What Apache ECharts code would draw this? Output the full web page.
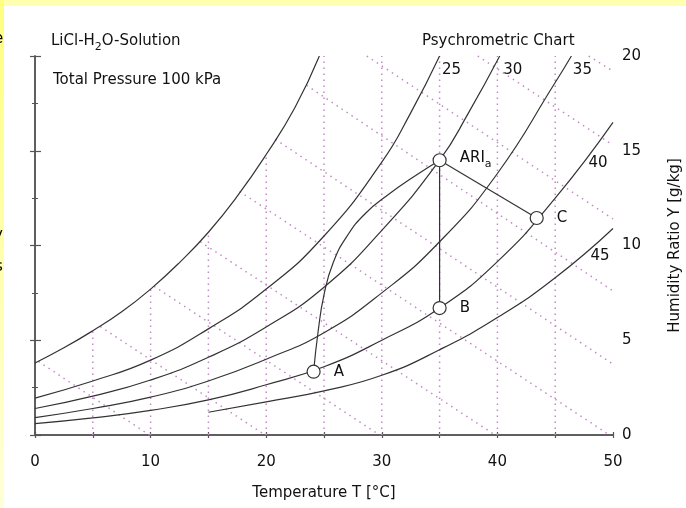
<!DOCTYPE html>
<html>
<head>
<meta charset="utf-8">
<style>
  html, body { margin: 0; padding: 0; background: #fff; }
  #chart { width: 686px; height: 508px; }
</style>
<script src="https://cdn.jsdelivr.net/npm/echarts/dist/echarts.min.js"></script>
</head>
<body>
<div id="chart"></div>
<script>
// saturation curve of pure water, then LiCl solution curves (mass %), [T, Y]
var saturation = [[0, 3.8], [2.5, 4.6], [5, 5.5], [7.5, 6.5], [10, 7.7], [12.5, 9.1], [15, 10.7], [17.5, 12.6], [20, 14.8], [22.5, 17.3], [24.6, 20]];
var licl25 = [[0, 1.95], [5, 2.85], [10, 3.95], [15, 5.6], [20, 7.7], [25, 10.5], [30, 14.4], [32.5, 17.0], [35, 20]];
var licl30 = [[0, 1.4], [5, 2.05], [10, 2.9], [15, 4.1], [20, 5.7], [25, 7.8], [30, 10.8], [35, 14.5], [37.5, 17.0], [40.2, 20]];
var licl35 = [[0, 0.92], [5, 1.4], [10, 2.0], [15, 2.85], [20, 4.0], [25, 5.4], [30, 7.5], [35, 10.2], [40, 13.8], [45, 18.6], [46.4, 20]];
var licl40 = [[0, 0.6], [5, 0.9], [10, 1.3], [15, 1.85], [20, 2.65], [25, 3.6], [30, 5.0], [35, 6.7], [40, 9.15], [45, 12.5], [50, 16.5]];
var licl45 = [[15, 1.2], [20, 1.75], [25, 2.33], [30, 3.15], [35, 4.5], [40, 6.2], [45, 8.3], [50, 10.9]];
var curveNames = ['25', '30', '35', '40', '45'];

// process: A -> ARIa (curved), ARIa -> B, ARIa -> C
var pathA = [[24.1, 3.34], [24.5, 5.5], [25.0, 7.4], [25.8, 9.1], [27.0, 10.5], [28.6, 11.7], [30.6, 12.7], [32.7, 13.6], [35, 14.5]];
var pathB = [[35, 14.5], [35, 6.7]];
var pathC = [[35, 14.5], [43.4, 11.45]];
var pointNames = ['A', 'B', 'C', 'ARIa'];
var pointValues = [[24.1, 3.34], [35, 6.7], [43.4, 11.45], [35, 14.5]];

// dotted grid: isotherms (from 0 up to saturation) and isenthalps
var isoT = [5, 10, 15, 20, 25, 30, 35, 40, 45];
var isoTTop = [5.5, 7.7, 10.7, 14.8, 20, 20, 20, 20, 20];
var enthalpyStart = [[0.3, 3.88], [5.65, 5.72], [10.3, 7.85], [14.3, 10.2], [17.7, 12.85], [20.8, 15.6], [23.5, 18.45], [28.7, 20], [38.3, 20], [47.9, 20]];
var enthalpyEnd = [[9.9, 0], [19.9, 0], [29.8, 0], [39.8, 0], [49.7, 0], [50, 3.74], [50, 7.6], [50, 11.4], [50, 15.3], [50, 19.2]];

var font = 'DejaVu Sans';
var ink = '#111';
var chart = echarts.init(document.getElementById('chart'));

var series = [];
var dotStyle = {color: '#c08cc4', width: 1.5, type: [1.5, 4.5]};
isoT.forEach(function (t, i) {
  series.push({type: 'line', data: [[t, 0], [t, isoTTop[i]]], symbol: 'none', silent: true,
    lineStyle: dotStyle, z: 1});
});
enthalpyStart.forEach(function (p, i) {
  series.push({type: 'line', data: [p, enthalpyEnd[i]], symbol: 'none', silent: true,
    lineStyle: dotStyle, z: 1});
});

var curveStyle = {color: '#333', width: 1.2};
[saturation, licl25, licl30, licl35, licl40, licl45].forEach(function (c) {
  series.push({type: 'line', data: c, smooth: 0.5, symbol: 'none', lineStyle: curveStyle, z: 3});
});
series.push({type: 'line', data: pathA, smooth: 0.5, symbol: 'none', lineStyle: curveStyle, z: 3});
[pathB, pathC].forEach(function (c) {
  series.push({type: 'line', data: c, symbol: 'none', lineStyle: curveStyle, z: 3});
});

// curve labels next to the curve ends
var labelOffsets = [[12, 14], [13, 14], [11, 14], [-15, 41], [-13, 28]];
series.push({
  type: 'scatter', symbolSize: 0, z: 5, silent: true,
  itemStyle: {opacity: 1},
  data: [licl25, licl30, licl35, licl40, licl45].map(function (c, i) {
    return {value: c[c.length - 1], label: {offset: labelOffsets[i], formatter: curveNames[i]}};
  }),
  label: {show: true, position: 'inside', color: ink, fontFamily: font, fontSize: 15}
});

var rich = {
  n: {fontFamily: font, fontSize: 15, fontWeight: 'normal', color: ink, verticalAlign: 'top'},
  s: {fontFamily: font, fontSize: 11, fontWeight: 'normal', color: ink, verticalAlign: 'top', padding: [8, 0, 0, 0]}
};
series.push({
  type: 'scatter', symbol: 'circle', symbolSize: 13, z: 6,
  itemStyle: {color: '#fff', borderColor: '#333', borderWidth: 1.2, opacity: 1},
  data: pointValues.map(function (v, i) { return {value: v, name: pointNames[i]}; }),
  label: {
    show: true, position: 'right', distance: 13,
    formatter: function (p) {
      return p.name === 'ARIa' ? '{n|ARI}{s|a}' : '{n|' + p.name + '}';
    },
    rich: rich
  }
});

var axisLine = {lineStyle: {color: '#555', width: 1.5}};
var tickStyle = {lineStyle: {color: '#555', width: 1.2}};

chart.setOption({
  backgroundColor: '#fff',
  animation: false,
  textStyle: {fontFamily: font},
  grid: {left: 35, right: 73, top: 56, bottom: 73, outerBoundsMode: 'none', containLabel: false},
  title: [
    {text: '{n|LiCl-H}{s|2}{n|O-Solution}', left: 46, top: 29, textStyle: {fontWeight: 'normal', rich: rich}},
    {text: 'Psychrometric Chart', left: 417, top: 29, textStyle: {fontFamily: font, fontSize: 15, fontWeight: 'normal', color: ink}},
    {text: 'Total Pressure 100 kPa', left: 48, top: 68, textStyle: {fontFamily: font, fontSize: 15, fontWeight: 'normal', color: ink}}
  ],
  graphic: [
    {type: 'rect', shape: {x: 0, y: 0, width: 686, height: 6}, style: {fill: '#ffffb0'}, silent: true},
    {type: 'rect', shape: {x: 0, y: 0, width: 4, height: 508}, silent: true,
      style: {fill: new echarts.graphic.LinearGradient(0, 0, 0, 1, [
        {offset: 0, color: '#ffff80'}, {offset: 1, color: '#ffffd8'}])}},
    {type: 'text', x: -6, y: 32, style: {text: 'e', fontSize: 15, fontFamily: font, fill: '#000'}, silent: true},
    {type: 'text', x: -6, y: 228, style: {text: 'y', fontSize: 15, fontFamily: font, fill: '#000'}, silent: true},
    {type: 'text', x: -5, y: 260, style: {text: 's', fontSize: 15, fontFamily: font, fill: '#000'}, silent: true}
  ],
  xAxis: [
    {type: 'value', position: 'bottom', min: 0, max: 50, interval: 5,
      axisLine: axisLine, axisTick: Object.assign({length: 3, inside: true}, tickStyle),
      splitLine: {show: false},
      axisLabel: {margin: 20, color: ink, fontSize: 15, fontFamily: font,
        formatter: function (v) { return v % 10 === 0 ? v : ''; }},
      name: 'Temperature T [°C]', nameLocation: 'middle', nameGap: 51,
      nameTextStyle: {color: ink, fontSize: 15, fontFamily: font}},
    {type: 'value', position: 'top', min: 0, max: 50, interval: 5,
      axisLine: axisLine, axisTick: Object.assign({length: 3, inside: true}, tickStyle),
      splitLine: {show: false}, axisLabel: {show: false}}
  ],
  yAxis: [
    {type: 'value', position: 'left', min: 0, max: 20, interval: 5,
      axisLine: axisLine, axisTick: Object.assign({length: 5}, tickStyle),
      minorTick: {show: true, splitNumber: 2, length: 3, lineStyle: {color: '#555'}},
      splitLine: {show: false}, minorSplitLine: {show: false}, axisLabel: {show: false}},
    {type: 'value', position: 'right', min: 0, max: 20, interval: 5,
      axisLine: axisLine, axisTick: Object.assign({length: 6}, tickStyle),
      minorTick: {show: true, splitNumber: 2, length: 3, lineStyle: {color: '#555'}},
      splitLine: {show: false}, minorSplitLine: {show: false},
      axisLabel: {margin: 9, color: ink, fontSize: 15, fontFamily: font},
      name: 'Humidity Ratio Y [g/kg]', nameLocation: 'middle', nameGap: 55, nameRotate: 90,
      nameTextStyle: {color: ink, fontSize: 15, fontFamily: font}}
  ],
  series: series
});
</script>
</body>
</html>
